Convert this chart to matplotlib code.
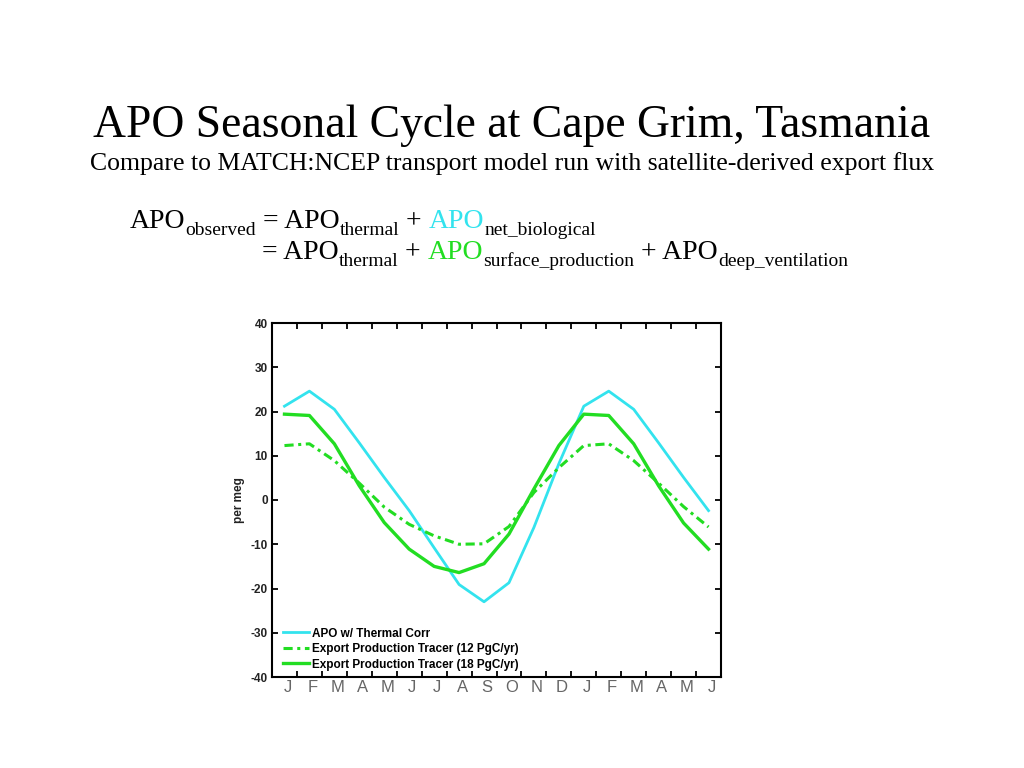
import matplotlib
matplotlib.use("Agg")
import matplotlib.pyplot as plt
import numpy as np

# %% --- datos (18 meses, J..J) ---
meses = ['J', 'F', 'M', 'A', 'M', 'J', 'J', 'A', 'S', 'O', 'N', 'D',
         'J', 'F', 'M', 'A', 'M', 'J']

apo_thermal_corr = [21.2, 24.6, 20.5, 12.9, 5.1, -2.4, -10.8, -19.1, -23.0,
                    -18.7, -6.2, 8.2, 21.2, 24.6, 20.5, 12.9, 5.1, -2.4]
tracer_12 = [12.3, 12.7, 8.9, 3.8, -1.6, -5.5, -8.1, -10.0, -9.9,
             -6.0, 1.7, 7.3, 12.3, 12.7, 8.9, 3.8, -1.5, -6.1]
tracer_18 = [19.4, 19.1, 12.7, 3.2, -5.1, -11.1, -15.0, -16.4, -14.4,
             -7.7, 2.5, 12.3, 19.4, 19.1, 12.7, 3.2, -5.2, -11.1]

etiquetas = ['APO w/ Thermal Corr',
             'Export Production Tracer (12 PgC/yr)',
             'Export Production Tracer (18 PgC/yr)']

cyan = '#33e3ee'
verde = '#22dd22'
W, H = 1024, 768

# %% --- figura ---
fig = plt.figure(figsize=(W / 100, H / 100), dpi=100)
fig.patch.set_facecolor('white')
renderer = fig.canvas.get_renderer()
serif = 'Liberation Serif'

fig.text(0.5, 1 - 137 / H, 'APO Seasonal Cycle at Cape Grim, Tasmania',
         ha='center', va='baseline', fontsize=32.9, family=serif)
fig.text(0.5, 1 - 170 / H,
         'Compare to MATCH:NCEP transport model run with satellite-derived export flux',
         ha='center', va='baseline', fontsize=18.5, family=serif)


def escribir(x0, y0, partes):
    # cada parte: (texto, tamaño, color, desplazamiento vertical en px)
    x = x0
    for s, size, col, dy in partes:
        t = fig.text(x / W, 1 - (y0 + dy) / H, s, fontsize=size, color=col,
                     family=serif, ha='left', va='baseline')
        x += t.get_window_extent(renderer).width
    return x


big, small, sub = 20, 14, 7
escribir(130, 228, [('APO', big, 'black', 0), ('observed', small, 'black', sub),
                    (' = APO', big, 'black', 0), ('thermal', small, 'black', sub),
                    (' + ', big, 'black', 0), ('APO', big, cyan, 0),
                    ('net_biological', small, 'black', sub)])
escribir(262, 259, [('= APO', big, 'black', 0), ('thermal', small, 'black', sub),
                    (' + ', big, 'black', 0), ('APO', big, verde, 0),
                    ('surface_production', small, 'black', sub),
                    (' + APO', big, 'black', 0),
                    ('deep_ventilation', small, 'black', sub)])

# %% --- ejes ---
ax = fig.add_axes([272 / W, 1 - 677 / H, 449 / W, 354 / H])
xx = np.arange(len(meses)) + 0.5

ax.plot(xx, apo_thermal_corr, color=cyan, lw=2.0, label=etiquetas[0])
ax.plot(xx, tracer_12, color=verde, lw=2.2, ls=(0, (3, 1.5, 1, 1.5)), label=etiquetas[1])
ax.plot(xx, tracer_18, color=verde, lw=2.4, label=etiquetas[2])

ax.set_xlim(0, len(meses))
ax.set_ylim(-40, 40)
ax.set_xticks(np.arange(1, len(meses)))
ax.set_xticklabels([])
# las letras del original estan corridas unos 3 px a la derecha del centro del mes
ax.set_xticks(xx + 0.12, minor=True)
ax.set_xticklabels(meses, minor=True, color='#666666', fontsize=12,
                   family='Liberation Sans')

ax.set_yticks(np.arange(-40, 41, 10))
ax.set_yticklabels([str(v) for v in range(-40, 41, 10)], fontsize=8.5,
                   fontweight='bold', family='Liberation Sans', color='#222222')
ax.tick_params(axis='both', which='major', direction='in', length=4, width=1.3,
               top=True, right=True)
ax.tick_params(axis='x', which='minor', length=0, pad=2)
ax.tick_params(axis='y', which='major', pad=3)
for sp in ax.spines.values():
    sp.set_linewidth(1.5)

ax.set_ylabel('per meg', fontsize=8.5, fontweight='bold', family='Liberation Sans',
              color='#222222', labelpad=4)

ax.legend(loc='lower left', bbox_to_anchor=(0.0, -0.012), frameon=False,
          prop={'family': 'Liberation Sans', 'weight': 'bold', 'size': 8.5},
          handlelength=2.2, handletextpad=0.3, labelspacing=0.3, borderpad=0.4)

fig.savefig('out.png', dpi=100, facecolor='white')
